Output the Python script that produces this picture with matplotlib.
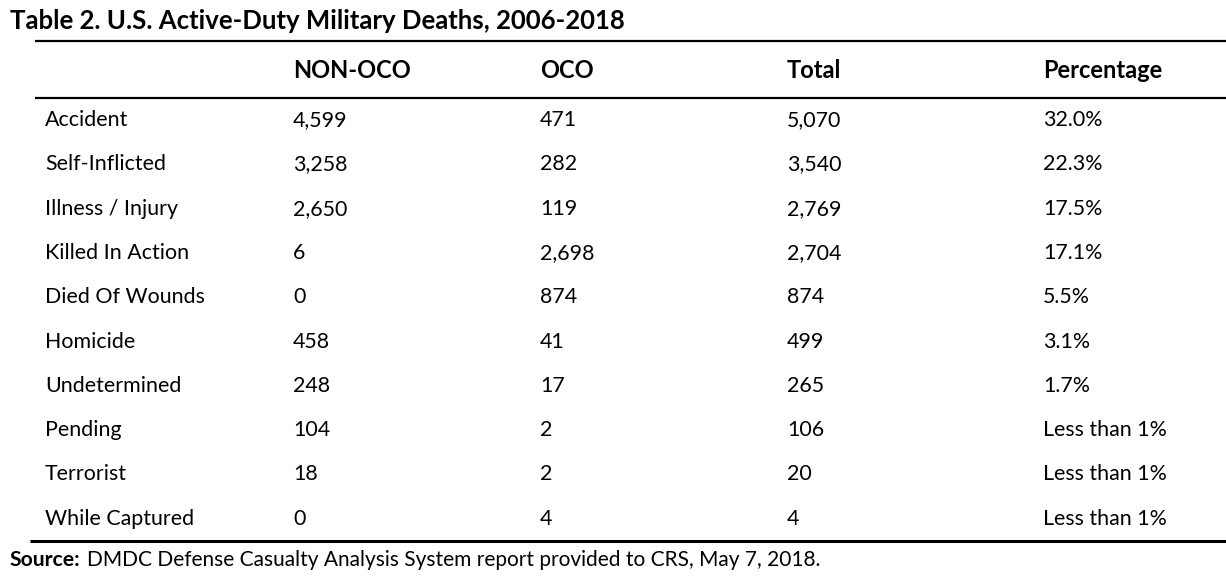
import matplotlib.pyplot as plt

# table content
causes = ["Accident", "Self-Inflicted", "Illness / Injury", "Killed In Action",
          "Died Of Wounds", "Homicide", "Undetermined", "Pending",
          "Terrorist", "While Captured"]
non_oco = [4599, 3258, 2650, 6, 0, 458, 248, 104, 18, 0]
oco = [471, 282, 119, 2698, 874, 41, 17, 2, 2, 4]
total = [5070, 3540, 2769, 2704, 874, 499, 265, 106, 20, 4]
percentage = ["32.0%", "22.3%", "17.5%", "17.1%", "5.5%", "3.1%", "1.7%",
              "Less than 1%", "Less than 1%", "Less than 1%"]
headers = ["NON-OCO", "OCO", "Total", "Percentage"]

title = "Table 2. U.S. Active-Duty Military Deaths, 2006-2018"
source_bold = "Source:"
source_text = "DMDC Defense Casualty Analysis System report provided to CRS, May 7, 2018."

W, H = 1226, 581
plt.rcParams['font.family'] = ['Lato', 'DejaVu Sans']

fig = plt.figure(figsize=(W / 100, H / 100), dpi=100)
ax = fig.add_axes([0, 0, 1, 1])
ax.set_xlim(0, W)
ax.set_ylim(H, 0)
ax.axis("off")

col_x = [45, 293, 540, 787, 1043]
fs = 15.4

ax.text(10, 21, title, fontsize=18.5, fontweight="bold", va="center", ha="left")

# rules
ax.hlines([41, 98], 35, W, color="black", linewidth=1.6)
ax.hlines(541, 30, W, color="black", linewidth=2.2)

for x, h in zip(col_x[1:], headers):
    ax.text(x, 71, h, fontsize=17, fontweight="bold", va="center", ha="left")

row_y0, row_dy = 120, 44.3
for i, name in enumerate(causes):
    y = row_y0 + i * row_dy
    vals = [name, f"{non_oco[i]:,}", f"{oco[i]:,}", f"{total[i]:,}", percentage[i]]
    for x, v in zip(col_x, vals):
        ax.text(x, y, v, fontsize=fs, va="center", ha="left")

t = ax.text(10, 560, source_bold, fontsize=15.2, fontweight="bold", va="center", ha="left")
fig.canvas.draw()
bb = t.get_window_extent()
ax.text(bb.x1 + 6, 560, source_text, fontsize=15.0, va="center", ha="left")

fig.savefig("out.png", dpi=100)
